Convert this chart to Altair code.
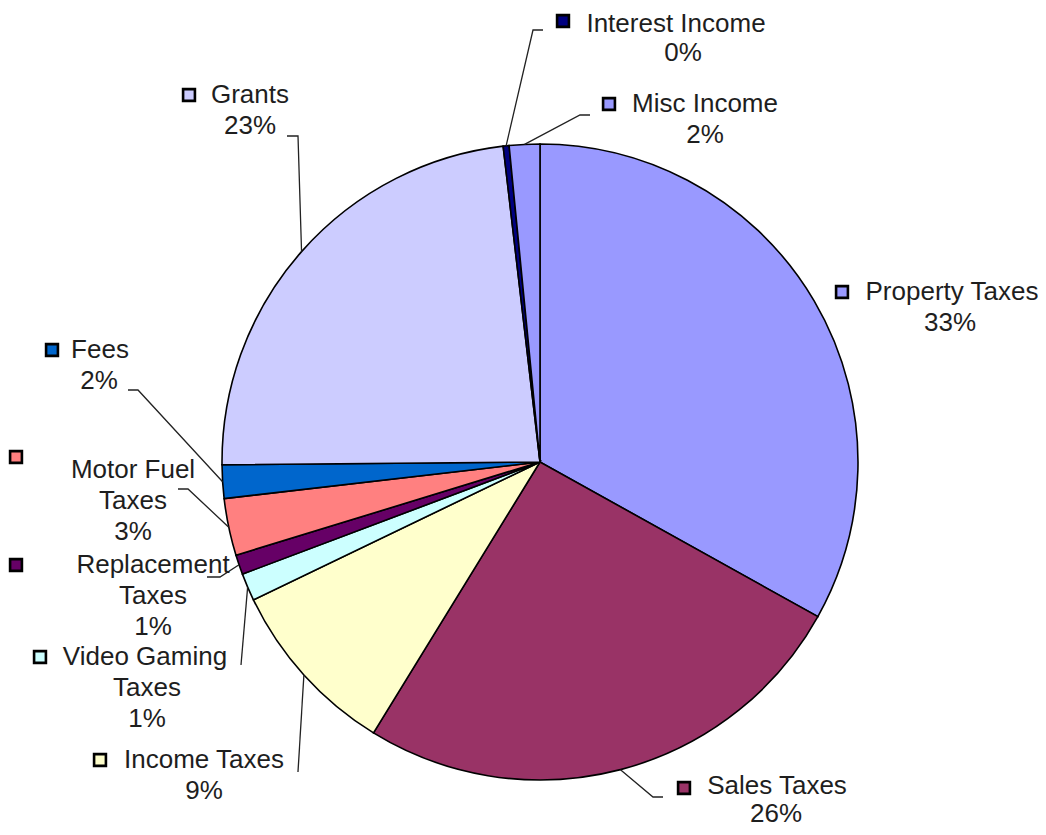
import altair as alt
import pandas as pd
import numpy as np

# ---- data ----
categories = ["Property Taxes", "Sales Taxes", "Income Taxes", "Video Gaming Taxes",
              "Replacement Taxes", "Motor Fuel Taxes", "Fees", "Grants",
              "Interest Income", "Misc Income"]
values = [33.1, 25.7, 9.1, 1.4, 1.0, 2.9, 1.7, 23.3, 0.3, 1.55]
colors = ["#9999FF", "#993366", "#FFFFCC", "#CCFFFF", "#660066",
          "#FF8080", "#0066CC", "#CCCCFF", "#000080", "#9999FF"]
name_lines = [["Property Taxes"], ["Sales Taxes"], ["Income Taxes"],
              ["Video Gaming", "Taxes"], ["Replacement", "Taxes"],
              ["Motor Fuel", "Taxes"], ["Fees"], ["Grants"],
              ["Interest Income"], ["Misc Income"]]

# ---- layout (page pixels) ----
OFF = 8
CX, CY, R = 540, 462, 318
# first-line centre x, other-lines centre x, first-line y, marker x, marker y, line height
label_layout = {
    "Property Taxes":     (952, 950, 292, 842, 292, 31),
    "Sales Taxes":        (777, 776, 786, 684, 788, 28),
    "Income Taxes":       (204, 204, 760, 100, 760, 31),
    "Video Gaming Taxes": (145, 147, 657, 40, 657, 31),
    "Replacement Taxes":  (153, 153, 565, 16, 565, 31),
    "Motor Fuel Taxes":   (133, 133, 470, 16, 457, 31),
    "Fees":               (100, 99, 350, 52, 350, 31),
    "Grants":             (250, 250, 95, 189, 95, 31),
    "Interest Income":    (676, 683, 24, 563, 21, 29),
    "Misc Income":        (705, 705, 104, 609, 104, 31),
}
# label-side points of leader lines
leader_layout = {
    "Interest Income":    [(543, 30), (533, 30)],
    "Misc Income":        [(590, 115), (580, 115)],
    "Grants":             [(287, 136), (298, 136)],
    "Fees":               [(128, 390), (138, 390)],
    "Motor Fuel Taxes":   [(178, 489), (188, 489)],
    "Replacement Taxes":  [(207, 577), (220, 577)],
    "Video Gaming Taxes": [(241, 665)],
    "Income Taxes":       [(298, 772)],
    "Sales Taxes":        [(663, 797), (653, 797)],
}

total = sum(values)
pct = [f"{round(v / total * 100):.0f}%" for v in values]

slices = pd.DataFrame({"category": categories, "value": values,
                       "color": colors, "order": range(len(categories))})

# text rows
trows = []
mrows = []
for i, c in enumerate(categories):
    l1x, rx, y0, mx, my, lh = label_layout[c]
    lines = name_lines[i] + [pct[i]]
    for k, t in enumerate(lines):
        trows.append({"x": (l1x if k == 0 else rx) - OFF, "y": y0 + k * lh - OFF, "t": t})
    mrows.append({"x": mx - OFF, "y": my - OFF, "color": colors[i]})
texts = pd.DataFrame(trows)
markers = pd.DataFrame(mrows)

# leader lines: end point on the arc at the slice's mid-angle
cum = np.cumsum([0] + values)
lrows = []
for i, c in enumerate(categories):
    if c not in leader_layout:
        continue
    mid = (cum[i] + cum[i + 1]) / 2 / total * 2 * np.pi
    ex = CX + R * np.sin(mid)
    ey = CY - R * np.cos(mid)
    pts = leader_layout[c] + [(ex, ey)]
    for k, (px, py) in enumerate(pts):
        lrows.append({"id": c, "k": k, "x": px - OFF, "y": py - OFF})
leaders = pd.DataFrame(lrows)

pie = alt.Chart(slices).mark_arc(radius=R, stroke="black", strokeWidth=1.6).encode(
    theta=alt.Theta("value:Q", stack=True),
    order=alt.Order("order:Q"),
    color=alt.Color("color:N", scale=None),
    x=alt.value(CX - OFF),
    y=alt.value(CY - OFF),
)

lead = alt.Chart(leaders).mark_line(color="#222222", strokeWidth=1.3).encode(
    x=alt.X("x:Q", scale=None),
    y=alt.Y("y:Q", scale=None),
    detail="id:N",
    order="k:Q",
)

txt = alt.Chart(texts).mark_text(font="Liberation Sans", fontSize=26, align="center",
                                 baseline="middle", color="#1e1e1e").encode(
    x=alt.X("x:Q", scale=None),
    y=alt.Y("y:Q", scale=None),
    text="t:N",
)

mk = alt.Chart(markers).mark_square(size=140, stroke="black", strokeWidth=2.6, opacity=1).encode(
    x=alt.X("x:Q", scale=None),
    y=alt.Y("y:Q", scale=None),
    fill=alt.Color("color:N", scale=None),
)

chart = alt.layer(pie, lead, txt, mk).properties(
    width=1030, height=819, autosize="none", padding=0
).configure_view(stroke=None)

chart.save("out.html", embed_options={"renderer": "svg", "actions": False})
